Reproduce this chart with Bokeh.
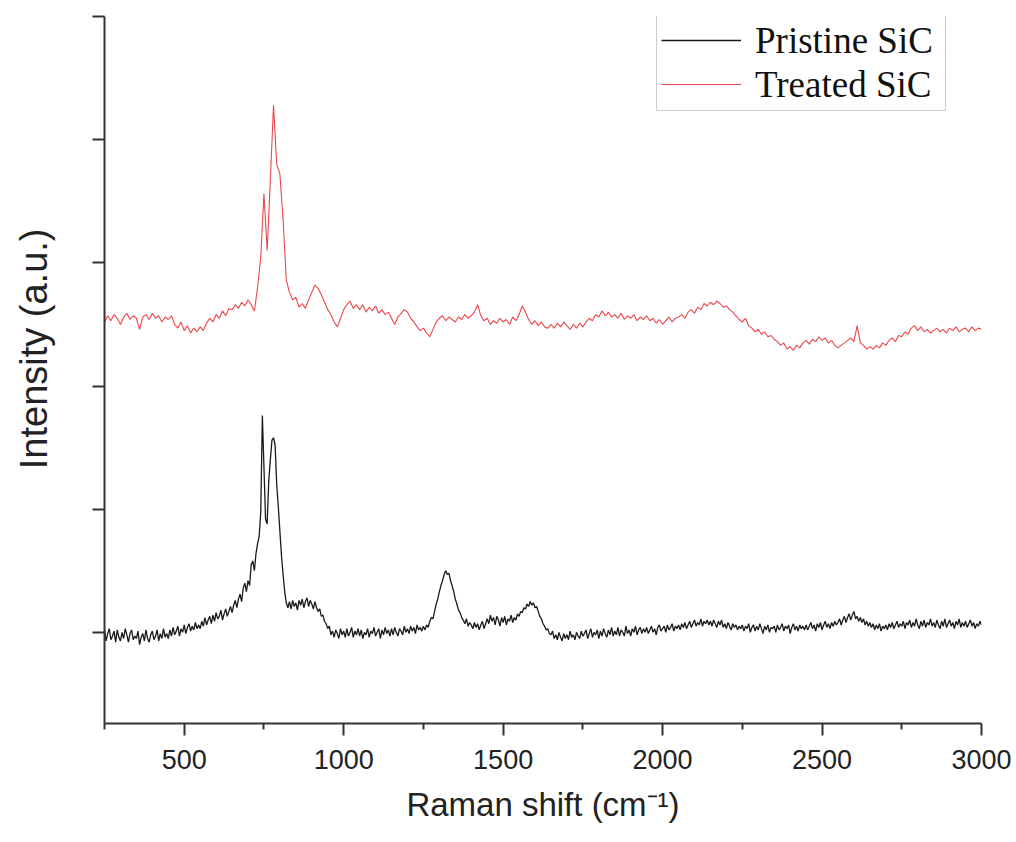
from bokeh.plotting import figure
from bokeh.models import FixedTicker
from bokeh.embed import file_html
from bokeh.resources import INLINE

# Raman shift grids (cm^-1)
shift_pristine = list(range(250, 3001, 5))
shift_treated = list(range(250, 3001, 10))

pristine = [
    0.02, -0.07, -0.01, 0.03, -0.06, -0.03, 0.01, -0.08, 0.02, -0.04,
    -0.07, 0.00, -0.05, 0.03, -0.02, -0.08, -0.01, 0.02, -0.06, -0.03,
    -0.05, 0.01, -0.10, -0.04, -0.01, -0.07, 0.02, -0.05, -0.08, -0.02,
    0.01, -0.06, -0.03, 0.02, -0.07, -0.01, -0.05, 0.03, -0.04, -0.01,
    -0.05, 0.02, -0.03, 0.04, -0.02, 0.01, 0.05, -0.03, 0.03, 0.00,
    0.06, -0.01, 0.04, 0.07, 0.01, 0.05, 0.02, 0.08, 0.03, 0.06,
    0.03, 0.09, 0.05, 0.12, 0.06, 0.10, 0.13, 0.07, 0.14, 0.09,
    0.16, 0.11, 0.13, 0.18, 0.10, 0.15, 0.19, 0.13, 0.17, 0.21,
    0.16, 0.22, 0.26, 0.20, 0.27, 0.31, 0.25, 0.36, 0.40, 0.33,
    0.42, 0.38, 0.55, 0.58, 0.50, 0.64, 0.72, 0.78, 0.98, 1.76,
    1.34, 0.92, 0.88, 1.23, 1.40, 1.56, 1.58, 1.52, 1.20, 1.02,
    0.82, 0.62, 0.47, 0.33, 0.24, 0.20, 0.25, 0.19, 0.26, 0.21,
    0.24, 0.18, 0.26, 0.22, 0.27, 0.20, 0.25, 0.28, 0.21, 0.26,
    0.23, 0.19, 0.25, 0.20, 0.17, 0.19, 0.13, 0.14, 0.09, 0.07,
    0.03, 0.05, -0.02, 0.01, -0.04, 0.02, -0.01, -0.05, 0.03, -0.02,
    0.01, -0.04, 0.03, -0.03, 0.00, 0.04, -0.04, 0.01, -0.02, 0.03,
    -0.03, 0.02, -0.05, 0.00, -0.02, 0.03, -0.04, 0.01, -0.01, 0.04,
    -0.03, 0.00, 0.03, -0.05, 0.02, -0.02, 0.04, -0.01, 0.02, -0.03,
    0.03, -0.02, 0.04, 0.00, -0.03, 0.03, 0.01, -0.02, 0.05, 0.00,
    0.03, -0.01, 0.05, 0.01, 0.04, -0.01, 0.06, 0.02, 0.04, 0.01,
    0.05, 0.02, 0.06, 0.04, 0.09, 0.12, 0.11, 0.17, 0.23, 0.27,
    0.33, 0.38, 0.42, 0.47, 0.50, 0.47, 0.48, 0.42, 0.38, 0.33,
    0.27, 0.23, 0.18, 0.16, 0.12, 0.10, 0.07, 0.11, 0.05, 0.08,
    0.06, 0.03, 0.08, 0.04, 0.07, 0.02, 0.06, 0.09, 0.03, 0.07,
    0.11, 0.07, 0.14, 0.09, 0.12, 0.06, 0.13, 0.10, 0.05, 0.12,
    0.08, 0.13, 0.06, 0.11, 0.09, 0.14, 0.08, 0.12, 0.10, 0.15,
    0.13, 0.17, 0.16, 0.20, 0.19, 0.23, 0.21, 0.25, 0.22, 0.24,
    0.20, 0.21, 0.17, 0.13, 0.11, 0.07, 0.05, 0.02, 0.03, -0.01,
    -0.02, 0.01, -0.05, -0.02, -0.06, 0.00, -0.04, -0.07, -0.01, -0.05,
    -0.02, -0.06, 0.01, -0.04, -0.02, -0.06, 0.00, -0.03, -0.05, 0.01,
    -0.03, -0.01, 0.02, -0.05, -0.01, 0.03, -0.04, 0.00, -0.02, 0.02,
    -0.05, 0.01, -0.03, 0.03, -0.01, -0.04, 0.02, -0.02, 0.04, -0.03,
    0.01, -0.02, 0.04, -0.03, 0.02, 0.00, -0.03, 0.05, -0.01, 0.02,
    -0.03, 0.03, 0.00, 0.05, -0.02, 0.02, 0.04, -0.01, 0.03, 0.00,
    0.04, -0.01, 0.02, 0.05, 0.00, 0.03, -0.02, 0.04, 0.06, 0.01,
    0.03, 0.05, 0.00, 0.06, 0.02, 0.04, 0.07, 0.01, 0.05, 0.03,
    0.06, 0.02, 0.07, 0.04, 0.08, 0.03, 0.06, 0.09, 0.04, 0.07,
    0.10, 0.05, 0.08, 0.06, 0.11, 0.05, 0.09, 0.07, 0.10, 0.06,
    0.09, 0.05, 0.10, 0.07, 0.04, 0.09, 0.06, 0.10, 0.04, 0.07,
    0.03, 0.08, 0.05, 0.02, 0.07, 0.04, 0.06, 0.02, 0.05, 0.03,
    0.06, 0.01, 0.05, 0.03, 0.07, 0.00, 0.04, 0.06, 0.01, 0.05,
    0.02, 0.07, 0.03, -0.01, 0.05, 0.02, 0.06, 0.00, 0.04, 0.03,
    0.05, 0.00, 0.06, 0.02, 0.04, 0.07, 0.01, 0.05, 0.03, 0.06,
    -0.01, 0.04, 0.07, 0.02, 0.05, 0.01, 0.06, 0.03, 0.05, 0.02,
    0.06, 0.02, 0.05, 0.08, 0.03, 0.06, 0.01, 0.07, 0.04, 0.08,
    0.02, 0.06, 0.09, 0.04, 0.07, 0.03, 0.08, 0.05, 0.09, 0.06,
    0.08, 0.11, 0.06, 0.10, 0.13, 0.08, 0.12, 0.15, 0.10, 0.14,
    0.17, 0.11, 0.13, 0.09, 0.12, 0.08, 0.11, 0.06, 0.09, 0.05,
    0.08, 0.04, 0.07, 0.02, 0.06, 0.03, 0.07, 0.01, 0.05, 0.03,
    0.06, 0.02, 0.07, 0.04, 0.08, 0.03, 0.06, 0.09, 0.04, 0.07,
    0.05, 0.09, 0.03, 0.08, 0.06, 0.10, 0.04, 0.08, 0.05, 0.11,
    0.06, 0.03, 0.09, 0.05, 0.10, 0.04, 0.08, 0.06, 0.11, 0.05,
    0.08, 0.04, 0.10, 0.06, 0.03, 0.09, 0.05, 0.11, 0.04, 0.07,
    0.10, 0.05, 0.08, 0.03, 0.09, 0.06, 0.11, 0.04, 0.08, 0.05,
    0.09, 0.04, 0.07, 0.10, 0.05, 0.08, 0.03, 0.07, 0.05, 0.09,
    0.06,
]

treated = [
    2.52, 2.57, 2.53, 2.58, 2.55, 2.50, 2.56, 2.59, 2.54, 2.57,
    2.55, 2.46, 2.56, 2.58, 2.54, 2.59, 2.55, 2.57, 2.52, 2.56,
    2.54, 2.57, 2.50, 2.47, 2.52, 2.45, 2.49, 2.43, 2.47, 2.44,
    2.48, 2.45, 2.51, 2.55, 2.52, 2.58, 2.55, 2.61, 2.57, 2.63,
    2.62, 2.66, 2.63, 2.68, 2.65, 2.70, 2.66, 2.61, 2.80, 3.05,
    3.56, 3.10, 3.67, 4.28, 3.80, 3.72, 3.35, 2.86, 2.76, 2.70,
    2.72, 2.64, 2.67, 2.63, 2.70, 2.76, 2.82, 2.79, 2.74, 2.68,
    2.62, 2.58, 2.52, 2.48, 2.55, 2.62, 2.66, 2.69, 2.63, 2.66,
    2.62, 2.66, 2.60, 2.64, 2.61, 2.65, 2.59, 2.62, 2.58, 2.60,
    2.55, 2.50, 2.56, 2.59, 2.62, 2.60, 2.55, 2.52, 2.48, 2.45,
    2.47, 2.43, 2.40, 2.46, 2.52, 2.55, 2.57, 2.53, 2.56, 2.54,
    2.52, 2.56, 2.54, 2.58, 2.55, 2.57, 2.60, 2.66, 2.57, 2.53,
    2.55, 2.50, 2.53, 2.51, 2.55, 2.52, 2.54, 2.50, 2.56, 2.53,
    2.58, 2.65, 2.60, 2.54, 2.50, 2.53, 2.49, 2.52, 2.48, 2.47,
    2.50, 2.47, 2.51, 2.48, 2.52, 2.49, 2.46, 2.50, 2.47, 2.51,
    2.48, 2.52, 2.55, 2.53, 2.58, 2.56, 2.61, 2.57, 2.60, 2.56,
    2.58, 2.55, 2.59, 2.54, 2.57, 2.55, 2.58, 2.53, 2.56, 2.54,
    2.57, 2.53, 2.55, 2.51, 2.54, 2.50, 2.53, 2.56, 2.52, 2.55,
    2.56, 2.58, 2.55, 2.60, 2.62, 2.59, 2.64, 2.62, 2.67, 2.65,
    2.68, 2.66, 2.69, 2.67, 2.64, 2.65, 2.62, 2.60, 2.57, 2.54,
    2.52, 2.55, 2.49, 2.47, 2.44, 2.46, 2.42, 2.44, 2.40, 2.41,
    2.38, 2.36, 2.33, 2.35, 2.30, 2.32, 2.29, 2.33, 2.31, 2.35,
    2.37, 2.34, 2.38, 2.36, 2.40, 2.37, 2.39, 2.35, 2.37, 2.33,
    2.31, 2.33, 2.35, 2.37, 2.39, 2.36, 2.49, 2.35, 2.33, 2.30,
    2.32, 2.30, 2.33, 2.31, 2.35, 2.33, 2.37, 2.39, 2.36, 2.41,
    2.40, 2.44, 2.42, 2.47, 2.49, 2.45, 2.48, 2.44, 2.46, 2.43,
    2.45, 2.47, 2.44, 2.46, 2.43, 2.47, 2.45, 2.48, 2.44, 2.46,
    2.47, 2.44, 2.48, 2.45, 2.47, 2.46,
]

x_major = [500, 1000, 1500, 2000, 2500, 3000]
x_minor = [250, 750, 1250, 1750, 2250, 2750]
y_major = [0, 1, 2, 3, 4, 5]

AX = "#333333"
SANS = "Liberation Sans"

p = figure(width=1016, height=842, x_range=(250, 3000), y_range=(-0.74, 5.0),
           output_backend="svg", toolbar_location=None,
           min_border_left=104, min_border_right=35,
           min_border_top=16, min_border_bottom=119)
p.grid.visible = False
p.outline_line_color = None
p.background_fill_color = "white"
p.border_fill_color = "white"

n_p = min(len(shift_pristine), len(pristine))
n_t = min(len(shift_treated), len(treated))
p.line(shift_pristine[:n_p], pristine[:n_p], line_color="#1a1a1a", line_width=1.3,
       legend_label="Pristine SiC")
p.line(shift_treated[:n_t], treated[:n_t], line_color="#e8474b", line_width=1.1,
       legend_label="Treated SiC")

xa = p.xaxis[0]
xa.ticker = FixedTicker(ticks=x_major, minor_ticks=x_minor)
xa.axis_label = "Raman shift (cm\u207b\u00b9)"
ya = p.yaxis[0]
ya.ticker = FixedTicker(ticks=y_major, minor_ticks=[])
ya.major_label_overrides = {v: "" for v in y_major}
ya.axis_label = "\u00a0\u00a0\u00a0\u00a0Intensity (a.u.)"

for ax in (xa, ya):
    ax.axis_line_color = AX
    ax.axis_line_width = 2
    ax.major_tick_line_color = AX
    ax.major_tick_line_width = 2
    ax.minor_tick_line_color = AX
    ax.minor_tick_line_width = 2
    ax.major_tick_in = 0
    ax.major_tick_out = 12
    ax.minor_tick_in = 0
    ax.minor_tick_out = 6
    ax.major_label_text_color = "#222222"
    ax.axis_label_text_font_style = "normal"
    ax.axis_label_text_color = "#222222"

xa.major_label_text_font = SANS
xa.major_label_text_font_size = "27px"
xa.axis_label_text_font = SANS
xa.axis_label_text_font_size = "33px"
xa.major_label_standoff = 14
xa.axis_label_standoff = 14

ya.axis_label_text_font = SANS
ya.axis_label_text_font_size = "38px"
ya.major_label_standoff = 0
ya.axis_label_standoff = 38

lg = p.legend[0]
lg.location = (552, 612)
lg.margin = 0
lg.padding = 4
lg.spacing = 0
lg.glyph_width = 80
lg.glyph_height = 44
lg.label_height = 44
lg.label_width = 186
lg.label_standoff = 14
lg.label_text_font = "Liberation Serif"
lg.label_text_font_size = "37px"
lg.label_text_color = "#111111"
lg.border_line_color = "#9a9a9a"
lg.border_line_width = 1
lg.background_fill_alpha = 1.0

with open("out.html", "w") as f:
    f.write(file_html(p, INLINE))
